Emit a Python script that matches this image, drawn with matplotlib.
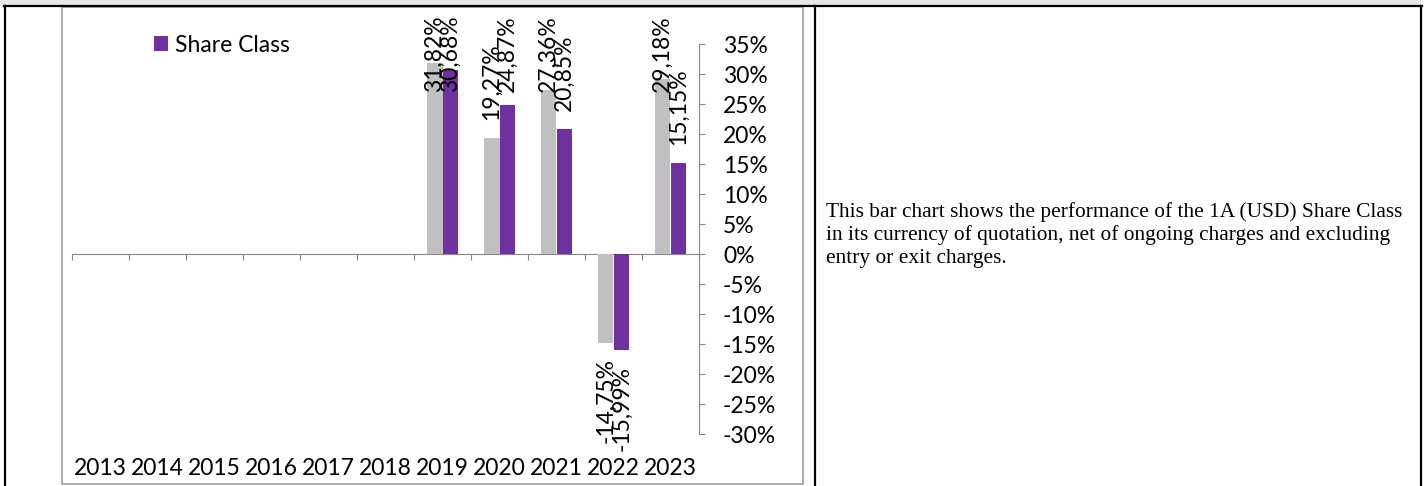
import matplotlib.pyplot as plt
import numpy as np
from matplotlib.patches import Rectangle
from matplotlib.lines import Line2D

# 年度收益（%），前几年无数据
years = ['2013', '2014', '2015', '2016', '2017', '2018',
         '2019', '2020', '2021', '2022', '2023']
benchmark = [np.nan] * 6 + [31.82, 19.27, 27.36, -14.75, 29.18]
share_class = [np.nan] * 6 + [30.68, 24.87, 20.85, -15.99, 15.15]
yticks = list(range(-30, 36, 5))

note = ["This bar chart shows the performance of the 1A (USD) Share Class",
        "in its currency of quotation, net of ongoing charges and excluding",
        "entry or exit charges."]

W, H = 1428, 486
font = 'Lato'
fs = 16.5
axis_grey = '#868686'


def fx(px):
    return px / W


def fy(py):
    return 1 - py / H


fig = plt.figure(figsize=(W / 100, H / 100), dpi=100)

# 表格外框
fig.add_artist(Rectangle((0, fy(5)), fx(1421), 5 / H, transform=fig.transFigure,
                         color='#e6e6e6', lw=0))
for x0, y0, x1, y1 in [(4, 6, 1422, 6), (5, 6, 5, 486), (815, 6, 815, 486), (1421, 6, 1421, 486)]:
    fig.add_artist(Line2D([fx(x0), fx(x1)], [fy(y0), fy(y1)], transform=fig.transFigure,
                          color='black', lw=1.6))
# 图表区域边框
fig.add_artist(Rectangle((fx(62), fy(484)), fx(803 - 62), (484 - 7) / H,
                         transform=fig.transFigure, fill=False, ec='#a6a6a6', lw=1.3))

ax = fig.add_axes([fx(72), fy(434), fx(699 - 72), (434 - 44) / H])
x = np.arange(len(years))
bw = 0.28
ax.bar(x - bw / 2, benchmark, width=bw, color='#c0c0c0', label='_nolegend_')
ax.bar(x + bw / 2, share_class, width=bw, color='#7030a0', label='Share Class')

ax.set_xlim(-0.5, len(years) - 0.5)
ax.set_ylim(-30, 35)

# 柱顶数值标签（竖排）
for offs, vals in [(-bw / 2, benchmark), (bw / 2, share_class)]:
    for xi, v in zip(x, vals):
        if np.isnan(v):
            continue
        txt = f'{v:.2f}'.replace('.', ',') + '%'
        if v >= 0:
            ax.text(xi + offs, min(v + 3.0, 27.0), txt, rotation=90, ha='center', va='bottom',
                    fontsize=fs, family=font, clip_on=False)
        else:
            ax.text(xi + offs, v - 2.6, txt, rotation=90, ha='center', va='top',
                    fontsize=fs, family=font, clip_on=False)

# y轴在右侧
ax.yaxis.tick_right()
ax.set_yticks(yticks)
ax.set_yticklabels([f'{t}%' for t in yticks], family=font, fontsize=fs)
ax.tick_params(axis='y', direction='out', length=4.3, color=axis_grey, pad=13)
for s in ['left', 'top', 'bottom']:
    ax.spines[s].set_visible(False)
ax.spines['right'].set_color(axis_grey)

# 年份标签放在底部
ax.set_xticks(x)
ax.set_xticklabels(years, family=font, fontsize=fs)
ax.tick_params(axis='x', length=0, pad=17)

# 零线及分类刻度
zero = ax.secondary_xaxis(30 / 65)
zero.set_xticks(np.arange(-0.5, len(years), 1))
zero.tick_params(axis='x', direction='out', length=4.3, color=axis_grey,
                 labelbottom=False, labeltop=False)
for s in zero.spines.values():
    s.set_color(axis_grey)

fig.legend(loc='center left', bbox_to_anchor=(fx(154), fy(45)), frameon=False,
           handlelength=0.62, handleheight=0.62, handletextpad=0.3,
           borderpad=0, borderaxespad=0, prop={'family': font, 'size': fs})

for i, line in enumerate(note):
    fig.text(fx(826), fy(212 + 23 * i), line, family='Liberation Serif', fontsize=15.4,
             va='center', ha='left')

fig.savefig('out.png', dpi=100)
